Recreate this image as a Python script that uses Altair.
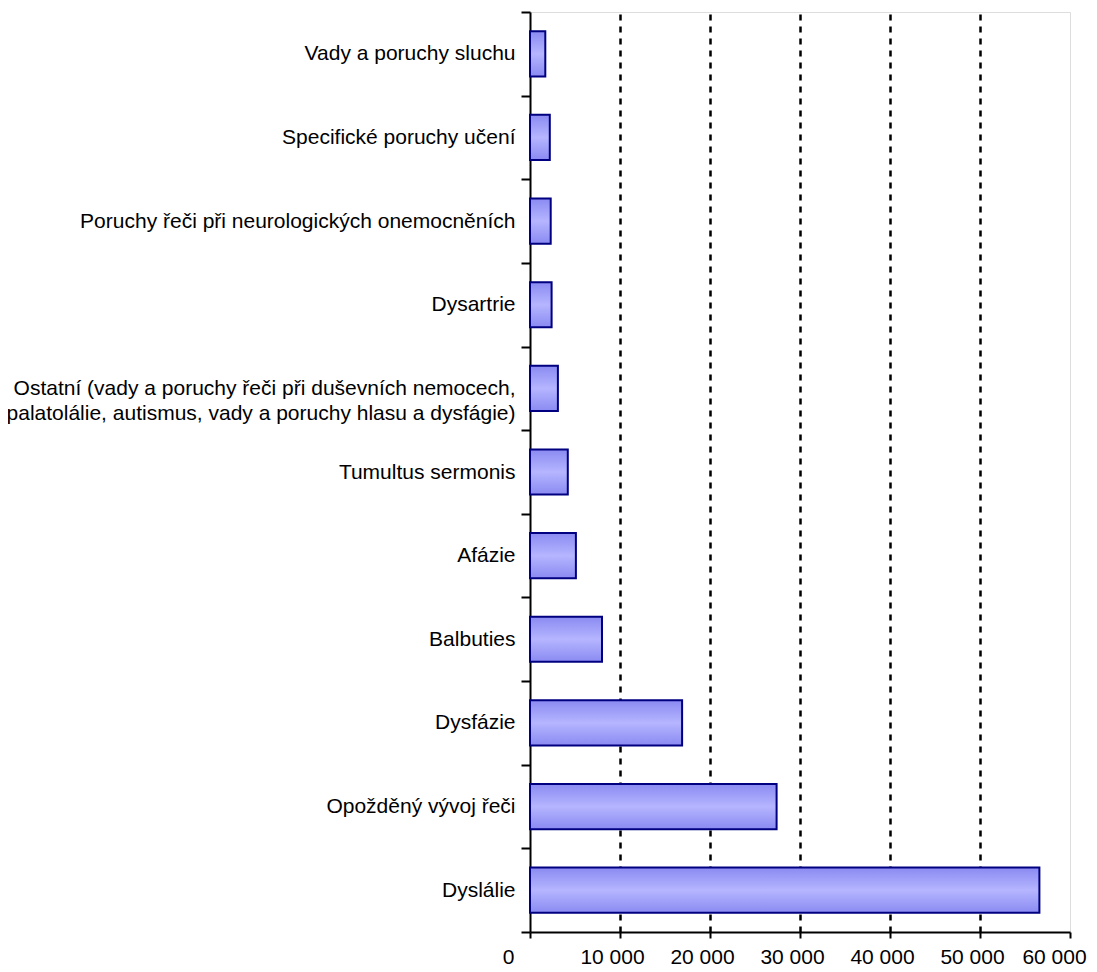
import altair as alt
import pandas as pd

categories = [
    "Vady a poruchy sluchu",
    "Specifické poruchy učení",
    "Poruchy řeči při neurologických onemocněních",
    "Dysartrie",
    "Ostatní (vady a poruchy řeči při duševních nemocech,|palatolálie, autismus, vady a poruchy hlasu a dysfágie)",
    "Tumultus sermonis",
    "Afázie",
    "Balbuties",
    "Dysfázie",
    "Opožděný vývoj řeči",
    "Dyslálie",
]
values = [1700, 2200, 2300, 2400, 3100, 4200, 5100, 8000, 16900, 27400, 56600]
x_ticks = [0, 10000, 20000, 30000, 40000, 50000, 60000]

df = pd.DataFrame({"kategorie": categories, "pocet": values})

font = "Liberation Sans"

gradient = alt.Gradient(
    gradient="linear",
    x1=0, x2=0, y1=0, y2=1,
    stops=[
        alt.GradientStop(color="#8A8AF2", offset=0),
        alt.GradientStop(color="#B5B5FF", offset=0.5),
        alt.GradientStop(color="#8A8AF2", offset=1),
    ],
)

chart = (
    alt.Chart(df)
    .mark_bar(color=gradient, stroke="#000080", strokeWidth=2, height={"band": 0.54})
    .encode(
        x=alt.X(
            "pocet:Q",
            scale=alt.Scale(domain=[0, 60000], nice=False),
            axis=alt.Axis(
                values=x_ticks,
                title=None,
                grid=True,
                gridColor="black",
                gridDash=[6, 6],
                gridWidth=2.5,
                gridOpacity={"condition": {"test": "datum.value == 0 || datum.value == 60000", "value": 0}, "value": 1},
                domainColor="black",
                domainWidth=2,
                tickColor="black",
                tickWidth=2,
                tickSize=6,
                labelPadding=8,
                labelFont=font,
                labelFontSize=21,
                labelColor="black",
                labelOverlap=False,
                labelFlush=False,
                labelExpr="datum.value >= 1000 ? floor(datum.value / 1000) + ' 000' : '' + datum.value",
                labelOffset={
                    "condition": [
                        {"test": "datum.value == 0", "value": -22},
                        {"test": "datum.value == 60000", "value": -16},
                    ],
                    "value": -8,
                },
            ),
        ),
        y=alt.Y(
            "kategorie:N",
            sort=categories,
            scale=alt.Scale(paddingInner=0, paddingOuter=0),
            axis=alt.Axis(
                title=None,
                grid=False,
                tickBand="extent",
                domainColor="black",
                domainWidth=2,
                tickColor="black",
                tickWidth=2,
                tickSize=9,
                labelPadding=6,
                labelFont=font,
                labelFontSize=21,
                labelColor="black",
                labelLineHeight=25,
                labelLimit=600,
                labelOverlap=False,
                labelExpr="split(datum.label, '|')",
            ),
        ),
    )
    .properties(
        width=540,
        height=920,
        autosize=alt.AutoSizeParams(type="none"),
        padding={"left": 522, "top": 4, "right": 19, "bottom": 40},
    )
    .configure_view(stroke="black", strokeWidth=2)
    .configure(background="white")
)

chart.save("out.html", embed_options={"renderer": "svg", "actions": False})
